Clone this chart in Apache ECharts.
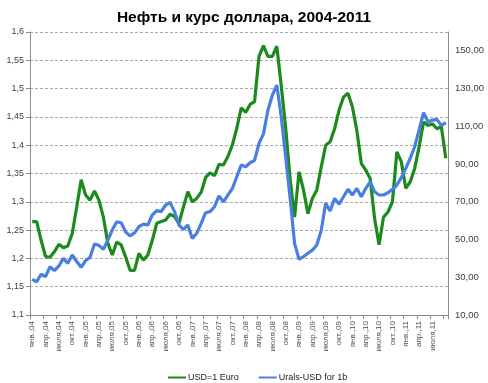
<!DOCTYPE html>
<html>
<head>
<meta charset="utf-8">
<script src="https://cdn.jsdelivr.net/npm/echarts@6/dist/echarts.min.js"></script>
<style>html,body{margin:0;padding:0;background:#fff}#c{width:488px;height:383px}</style>
</head>
<body>
<div id="c"></div>
<script>
// Month names used for category labels (Jan 2004 .. Oct 2011)
var monthNames = ['янв.', 'фев.', 'мар.', 'апр.', 'мая', 'июня', 'июля', 'авг.', 'сент.', 'окт.', 'нояб.', 'дек.'];
var years = ['04', '05', '06', '07', '08', '09', '10', '11'];

// USD per 1 Euro (left axis)
var usdEuro2004 = [1.265, 1.265, 1.232, 1.203, 1.202, 1.212, 1.225, 1.219, 1.222, 1.244, 1.291, 1.339];
var usdEuro2005 = [1.312, 1.303, 1.319, 1.303, 1.273, 1.227, 1.206, 1.229, 1.224, 1.203, 1.179, 1.179];
var usdEuro2006 = [1.209, 1.197, 1.206, 1.232, 1.262, 1.265, 1.268, 1.278, 1.274, 1.262, 1.291, 1.318];
var usdEuro2007 = [1.300, 1.306, 1.317, 1.343, 1.351, 1.346, 1.366, 1.365, 1.380, 1.400, 1.430, 1.466];
var usdEuro2008 = [1.458, 1.472, 1.477, 1.557, 1.576, 1.557, 1.557, 1.575, 1.505, 1.430, 1.340, 1.273];
var usdEuro2009 = [1.353, 1.321, 1.279, 1.306, 1.321, 1.362, 1.400, 1.406, 1.429, 1.462, 1.485, 1.492];
var usdEuro2010 = [1.468, 1.426, 1.368, 1.356, 1.341, 1.270, 1.224, 1.273, 1.282, 1.300, 1.388, 1.371];
var usdEuro2011 = [1.324, 1.335, 1.359, 1.397, 1.441, 1.435, 1.438, 1.429, 1.433, 1.377];

// Urals, USD per barrel (right axis)
var urals2004 = [28.9, 27.6, 31.6, 30.3, 35.6, 33.5, 36.0, 40.0, 37.4, 41.8, 38.3, 35.3];
var urals2005 = [38.8, 40.6, 47.6, 46.9, 44.8, 49.7, 55.0, 59.4, 58.9, 54.1, 51.9, 53.5];
var urals2006 = [56.8, 58.2, 57.7, 63.0, 65.3, 64.8, 68.3, 69.7, 64.8, 57.7, 55.4, 57.7];
var urals2007 = [50.6, 53.3, 58.6, 64.2, 64.8, 67.4, 73.1, 70.0, 73.6, 77.0, 83.3, 89.5];
var urals2008 = [88.6, 90.7, 92.0, 101.0, 106.0, 118.5, 126.5, 131.9, 115.1, 93.9, 71.8, 48.0];
var urals2009 = [39.5, 40.9, 42.7, 44.4, 47.1, 55.0, 69.2, 65.1, 71.8, 68.7, 72.7, 76.6];
var urals2010 = [73.6, 77.1, 72.7, 77.1, 80.6, 75.3, 73.6, 73.6, 74.8, 76.6, 78.9, 82.8];
var urals2011 = [87.7, 93.0, 99.2, 108.0, 117.2, 112.4, 113.3, 113.7, 110.5, 112.0];

var seriesNames = ['USD=1 Euro', 'Urals-USD for 1b'];
var titleText = 'Нефть и курс доллара, 2004-2011';

var usdEuro = [].concat(usdEuro2004, usdEuro2005, usdEuro2006, usdEuro2007, usdEuro2008, usdEuro2009, usdEuro2010, usdEuro2011);
var urals = [].concat(urals2004, urals2005, urals2006, urals2007, urals2008, urals2009, urals2010, urals2011);
var categories = [];
for (var y = 0; y < years.length; y++) {
  for (var m = 0; m < 12; m++) {
    if (categories.length < usdEuro.length) categories.push(monthNames[m] + ',' + years[y]);
  }
}

var chart = echarts.init(document.getElementById('c'), null, {renderer: 'canvas'});
var labelColor = '#404040';
var axisColor = '#8c8c8c';
chart.setOption({
  animation: false,
  backgroundColor: '#ffffff',
  title: {
    text: titleText,
    left: 'center',
    top: 5,
    textStyle: {fontFamily: 'Liberation Sans, Arial, sans-serif', fontSize: 15.5, fontWeight: 'bold', color: '#000'}
  },
  legend: {
    data: seriesNames,
    left: 163,
    top: 368,
    icon: 'rect',
    itemWidth: 18,
    itemHeight: 2,
    itemGap: 20,
    textStyle: {fontFamily: 'Liberation Sans, Arial, sans-serif', fontSize: 9, color: '#222', padding: [0, 0, 0, -3]}
  },
  grid: {left: 30, right: 40, top: 32, bottom: 68, containLabel: false},
  xAxis: {
    type: 'category',
    data: categories,
    boundaryGap: true,
    axisLine: {lineStyle: {color: axisColor, width: 1}},
    axisTick: {show: true, interval: 2, length: 4, lineStyle: {color: axisColor}},
    axisLabel: {
      rotate: 90,
      interval: function (i) { return i % 3 === 0 && i <= 90; },
      fontFamily: 'Liberation Sans, Arial, sans-serif',
      fontSize: 8,
      color: '#505050',
      margin: 6
    },
    splitLine: {show: false}
  },
  yAxis: [
    {
      type: 'value',
      min: 1.1,
      max: 1.6,
      interval: 0.05,
      position: 'left',
      axisLine: {show: true, lineStyle: {color: axisColor}},
      axisTick: {show: true, length: 4, lineStyle: {color: axisColor}},
      axisLabel: {
        fontFamily: 'Liberation Sans, Arial, sans-serif',
        fontSize: 9,
        color: labelColor,
        margin: 6,
        formatter: function (v) { return String(Math.round(v * 100) / 100).replace('.', ','); }
      },
      splitLine: {show: true, lineStyle: {color: '#a8a8a8', type: [3, 2], width: 1}}
    },
    {
      type: 'value',
      min: 10,
      max: 160,
      interval: 10,
      position: 'right',
      axisLine: {show: true, lineStyle: {color: axisColor}},
      axisTick: {show: false},
      axisLabel: {
        fontFamily: 'Liberation Sans, Arial, sans-serif',
        fontSize: 9.5,
        color: labelColor,
        margin: 7,
        formatter: function (v) {
          var r = Math.round(v);
          if (r >= 160 || (r - 10) % 20 !== 0) return '';
          return r.toFixed(2).replace('.', ',');
        }
      },
      splitLine: {show: false}
    }
  ],
  series: [
    {
      name: seriesNames[0],
      type: 'line',
      yAxisIndex: 0,
      data: usdEuro,
      showSymbol: false,
      symbol: 'none',
      lineStyle: {color: '#1c8a1c', width: 3.2},
      itemStyle: {color: '#1c8a1c'},
      z: 2
    },
    {
      name: seriesNames[1],
      type: 'line',
      yAxisIndex: 1,
      data: urals,
      showSymbol: false,
      symbol: 'none',
      lineStyle: {color: '#4a7fe2', width: 3.2},
      itemStyle: {color: '#4a7fe2'},
      z: 3
    }
  ]
});
</script>
</body>
</html>
